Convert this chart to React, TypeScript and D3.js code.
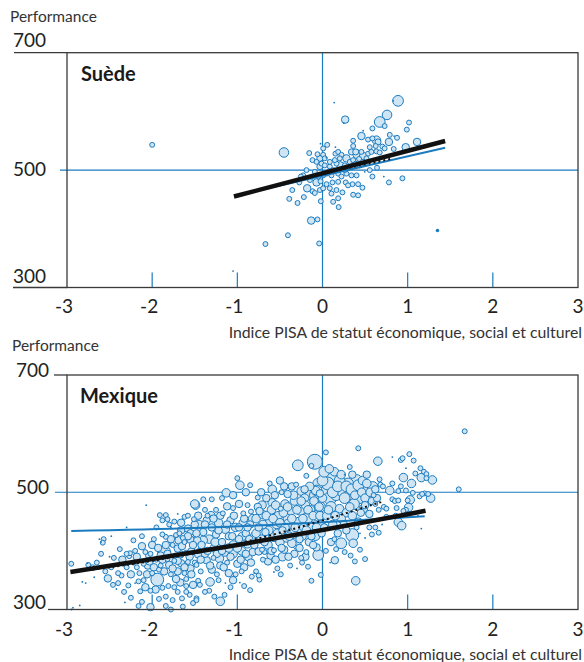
import React from "react";
import * as d3 from "d3";

const xTicks = [-3, -2, -1, 0, 1, 2, 3];
const innerTicks = [-2, -1, 1, 2];
const yTicks = [300, 500, 700];
const xTitle = "Indice PISA de statut économique, social et culturel";
const yTitle = "Performance";

type P = [number, number, number]; // [ESCS, score, school size]

const swedenPoints: P[] = [
  [0.137,615,5],[0.887,618,190],[0.83,618,5],[0.758,594,150],[0.672,582,190],[0.73,575,40],[0.266,586,92],[0.25,580,5],
  [1.016,581,40],[0.99,569,40],[0.586,571,40],[0.477,567,5],[0.79,560,40],[0.84,558,5],[0.875,555,40],[0.457,558,92],
  [0.535,552,40],[0.633,551,120],[0.652,548,60],[0.586,554,40],[0.78,548,92],[1.11,548,92],[0.055,543,40],[0.008,537,40],
  [-0.023,545,5],[0.152,539,5],[0.36,550,40],[0.36,541,40],[0.555,539,40],[0.625,541,40],[0.703,540,40],[0.73,537,40],
  [0.977,539,92],[-0.453,530,150],[-0.156,529,40],[-0.059,527,40],[-0.031,520,60],[0.008,526,40],[0.047,521,5],[0.152,528,40],
  [0.184,531,40],[0.223,526,40],[0.281,520,92],[0.34,531,60],[0.39,531,60],[0.406,527,120],[0.457,531,40],[0.477,524,92],
  [0.535,528,40],[0.574,531,40],[0.633,532,40],[0.672,530,40],[0.836,536,40],[-0.117,517,40],[-0.07,514,40],[-0.012,511,40],
  [-0.031,506,60],[0.086,506,40],[0.125,500,40],[0.164,511,40],[0.21,508,92],[0.262,508,40],[0.32,514,40],[0.36,517,40],
  [0.39,511,40],[0.43,519,40],[-0.188,500,40],[-0.227,491,40],[-0.254,489,40],[-0.273,479,40],[-0.09,497,40],[-0.05,489,40],
  [0.008,491,40],[0.047,494,40],[0.078,498,40],[0.105,491,40],[0.184,494,40],[0.223,489,40],[0.281,494,40],[0.34,491,40],
  [0.4,491,40],[0.496,497,5],[0.555,500,40],[0.586,489,40],[0.64,504,40],[0.72,489,5],[0.78,479,40],[0.938,486,40],
  [-0.148,483,40],[-0.07,479,92],[-0.023,481,40],[0.047,476,40],[0.117,479,40],[0.184,480,40],[0.273,479,40],[0.352,476,40],
  [0.418,476,40],[-0.355,466,40],[-0.219,454,40],[-0.18,469,92],[-0.117,464,40],[-0.09,461,40],[-0.031,466,40],[0.008,469,40],
  [0.086,469,40],[0.105,460,40],[0.164,466,40],[0.234,462,40],[0.3,474,40],[0.36,458,40],[0.418,457,40],[0.469,470,40],
  [-0.39,451,40],[-0.293,444,40],[-0.02,447,40],[0.125,446,40],[0.184,452,40],[0.19,437,40],[-0.133,414,92],[-0.059,416,40],
  [-0.406,389,40],[-0.039,375,40],[1.35,397,20],[-2.0,543,40],[-1.05,328,5],[-0.67,374,40],
  [0.086,514,40],[0.027,508,40],[0.262,500,40],[0.145,517,40],[0.32,505,40],[0.438,508,40],[0.496,511,40],[0.516,520,40],
  [0.203,520,40],[0.027,520,40],
];

const swedenBlack: [number, number][] = [[-1.04,455],[1.44,549.5]];
const swedenBlue: [number, number][] = [[-1.0,457],[1.44,538]];
const swedenDotted: [number, number][] = [[-0.6,471],[0,493],[0.5,510],[0.8,519]];

const mexicoPoints: P[] = [
  // far left
  [-2.93,303,5],[-2.85,307,5],[-2.78,345,5],[-2.82,347,5],[-2.76,379,5],[-2.62,420,5],[-2.60,415,5],[-2.68,355,5],
  [-2.95,378,40],[-2.75,376,40],[-2.57,420,40],[-2.58,414,40],[-2.52,353,92],[-2.50,390,5],[-2.45,388,40],[-2.42,335,5],
  [-2.46,342,40],[-2.38,403,40],[-2.36,358,40],[-2.30,372,40],[-2.27,391,40],[-2.22,418,40],[-2.28,341,40],[-2.20,345,5],
  [-2.32,312,5],[-2.48,425,5],[-2.70,372,40],[-2.30,440,5],[-2.18,372,40],[-2.12,408,92],[-2.16,348,40],[-2.10,378,40],
  [-2.05,392,40],[-2.02,304,92],[-2.06,360,92],[-2.07,478,5],[-2.08,398,40],[-2.12,313,40],[-2.95,300,5],[-2.22,380,40],
  [-2.14,331,40],[-2.26,396,40],
  [-2.55,365,40],[-2.48,372,40],[-2.40,362,40],[-2.35,385,92],[-2.30,395,40],[-2.25,360,92],[-2.20,400,40],[-2.18,390,92],
  [-2.15,362,40],[-2.10,350,40],[-2.05,375,92],[-2.02,395,40],[-2.00,410,92],[-2.12,425,40],[-2.40,345,40],[-2.33,330,40],
  [-2.60,395,40],[-2.65,380,40],[-2.25,320,40],[-2.08,338,92],[-2.16,306,40],
  // -2 .. -1.5
  [-1.91,461,40],[-1.84,461,40],[-1.88,452,40],[-1.82,454,40],[-1.70,463,5],[-1.62,458,40],[-1.51,454,40],[-1.49,478,120],
  [-1.78,440,5],[-1.66,435,92],[-1.58,438,92],[-1.84,424,40],[-1.72,427,40],[-1.64,422,40],[-1.55,430,92],[-1.52,422,92],
  [-1.86,398,270],[-1.84,410,92],[-1.76,410,40],[-1.69,418,92],[-1.62,415,40],[-1.55,419,92],[-1.47,418,92],[-1.90,392,92],
  [-1.82,386,40],[-1.73,392,40],[-1.67,394,92],[-1.60,397,40],[-1.54,399,92],[-1.46,394,92],[-2.03,382,92],[-1.95,385,40],
  [-1.88,385,92],[-1.80,376,92],[-1.74,383,40],[-1.66,379,92],[-1.58,381,40],[-1.50,380,40],[-1.94,351,270],[-2.02,332,40],
  [-1.96,334,92],[-1.88,337,40],[-1.81,340,40],[-1.74,338,40],[-1.67,346,92],[-1.60,340,40],[-1.52,342,92],[-1.46,349,40],
  [-1.84,322,40],[-1.76,316,40],[-1.65,319,40],[-1.56,325,40],[-1.48,319,40],[-1.64,305,40],[-1.52,311,40],[-1.84,306,40],
  [-1.78,360,40],[-1.70,365,92],[-1.62,362,40],[-1.55,370,92],[-1.92,368,40],[-2.00,362,40],[-1.70,404,92],[-1.98,420,40],
  [-1.98,372,92],[-1.93,405,92],[-1.90,375,40],[-1.86,365,92],[-1.82,395,92],[-1.78,420,92],[-1.76,370,92],[-1.72,352,92],
  [-1.70,383,92],[-1.68,430,40],[-1.65,408,92],[-1.62,372,92],[-1.60,352,40],[-1.58,425,92],[-1.56,390,92],[-1.54,360,92],
  [-1.52,410,92],[-1.50,445,92],[-1.95,440,40],[-1.88,428,40],[-1.80,445,40],[-1.74,450,40],[-1.66,448,92],[-1.58,460,40],
  [-1.92,318,40],[-1.70,330,40],[-1.60,330,40],[-1.78,300,40],
  // -1.5 .. -0.8
  [-1.50,480,120],[-1.38,470,40],[-1.31,460,120],[-1.17,464,40],[-1.05,473,40],[-0.93,464,40],[-1.00,524,40],[-0.97,512,120],
  [-1.13,499,120],[-0.84,467,40],[-0.76,491,40],[-1.48,376,40],[-1.36,384,92],[-1.21,387,120],[-1.05,395,120],[-0.87,389,92],
  [-1.32,347,120],[-1.44,342,40],[-1.20,314,120],[-1.48,316,40],[-1.27,322,40],[-0.97,346,5],[-1.14,345,5],[-0.83,356,40],
  [-0.80,362,5],[-0.85,333,40],[-0.74,351,40],
  [-1.45,445,120],[-1.40,432,92],[-1.36,452,92],[-1.33,420,120],[-1.30,440,92],[-1.27,405,120],[-1.25,428,92],[-1.22,448,120],
  [-1.18,415,92],[-1.15,398,120],[-1.14,437,120],[-1.10,425,92],[-1.08,452,92],[-1.05,410,120],[-1.02,440,120],[-0.98,420,92],
  [-0.95,400,120],[-0.93,448,120],[-0.90,430,92],[-0.88,412,120],[-0.85,445,92],[-0.82,398,92],[-0.80,425,120],[-1.42,410,92],
  [-1.38,395,92],[-1.28,388,40],[-1.20,375,92],[-1.12,380,40],[-1.00,378,92],[-0.92,372,92],[-1.43,365,40],[-1.30,368,92],
  [-1.24,360,40],[-1.10,362,92],[-1.35,460,40],[-1.25,470,40],[-1.12,476,92],[-0.98,480,92],[-0.88,478,40],[-1.40,488,40],
  [-1.45,400,40],[-1.02,360,40],[-0.95,365,40],[-1.33,332,40],[-1.08,338,40],
  [-1.48,430,92],[-1.46,460,92],[-1.43,385,92],[-1.40,418,120],[-1.38,445,92],[-1.35,400,92],[-1.32,375,92],[-1.28,455,92],
  [-1.26,415,120],[-1.24,395,92],[-1.22,435,92],[-1.20,460,92],[-1.18,400,92],[-1.16,372,92],[-1.12,445,92],[-1.10,405,120],
  [-1.08,390,92],[-1.06,425,92],[-1.04,460,92],[-1.00,405,120],[-0.98,440,92],[-0.96,385,92],[-0.94,425,120],[-0.92,455,92],
  [-0.90,395,92],[-0.88,440,92],[-0.86,420,92],[-0.84,380,92],[-0.82,455,120],[-0.80,410,92],[-1.30,488,40],[-1.18,490,40],
  [-1.05,495,92],[-0.90,500,92],[-0.85,512,40],[-1.22,350,40],[-1.05,350,92],[-0.92,340,40],[-1.38,330,40],[-1.15,325,40],
  // -0.8 .. 0
  [-0.71,478,120],[-0.59,482,120],[-0.59,505,120],[-0.49,472,40],[-0.40,456,190],[-0.41,497,92],[-0.36,510,92],[-0.31,513,40],
  [-0.29,546,190],[-0.25,502,120],[-0.21,490,120],[-0.19,528,40],[-0.14,496,190],[-0.13,545,40],[-0.09,552,368],[-0.08,503,120],
  [-0.03,498,92],[-0.05,393,190],[-0.75,399,92],[-0.68,398,40],[-0.57,401,40],[-0.47,390,120],[-0.33,395,92],[-0.24,380,40],
  [-0.17,373,40],[-0.07,406,92],[-0.57,364,5],[-0.53,370,40],[-0.49,360,40],[-0.75,358,40],[-0.78,365,40],[-0.64,382,92],
  [-0.38,375,40],[-0.30,370,5],[-0.25,388,40],
  [-0.78,455,120],[-0.75,440,92],[-0.72,420,120],[-0.70,462,120],[-0.67,432,92],[-0.64,410,120],[-0.62,450,120],[-0.60,470,120],
  [-0.57,425,190],[-0.54,445,120],[-0.52,460,120],[-0.50,415,120],[-0.47,435,92],[-0.44,480,120],[-0.42,422,120],[-0.40,445,190],
  [-0.37,468,120],[-0.35,430,190],[-0.33,485,120],[-0.30,410,120],[-0.28,450,120],[-0.26,470,190],[-0.24,425,120],[-0.22,440,120],
  [-0.20,478,120],[-0.18,455,190],[-0.16,415,92],[-0.14,470,120],[-0.12,440,190],[-0.10,485,120],[-0.08,425,120],[-0.06,460,190],
  [-0.04,475,120],[-0.02,445,120],[0.00,490,120],[-0.66,490,92],[-0.56,495,92],[-0.48,500,40],[-0.76,475,92],[-0.71,402,40],
  [-0.61,392,92],[-0.45,402,92],[-0.36,413,120],[-0.27,405,92],[-0.19,398,40],[-0.11,410,92],
  [-0.78,430,120],[-0.74,468,92],[-0.70,445,120],[-0.68,415,92],[-0.66,460,120],[-0.63,435,120],[-0.60,400,92],[-0.58,455,120],
  [-0.55,478,120],[-0.53,430,120],[-0.50,448,120],[-0.48,405,92],[-0.46,465,120],[-0.44,440,120],[-0.41,475,120],[-0.39,425,120],
  [-0.36,455,120],[-0.34,495,120],[-0.32,440,120],[-0.30,470,120],[-0.27,420,92],[-0.25,485,120],[-0.23,455,120],[-0.21,505,92],
  [-0.19,435,120],[-0.17,470,120],[-0.15,510,120],[-0.13,425,92],[-0.11,460,120],[-0.09,495,190],[-0.07,440,120],[-0.05,515,190],
  [-0.03,460,120],[-0.01,430,92],[-0.72,500,92],[-0.62,515,40],[-0.50,520,92],[-0.45,510,92],[-0.70,385,40],[-0.55,385,92],
  [-0.40,390,92],[-0.20,390,92],
  // 0 .. 0.7
  [0.04,568,40],[0.42,575,40],[0.65,553,120],[0.32,543,40],[0.106,526,270],[0.16,509,368],[0.26,530,5],[0.40,521,190],
  [0.54,509,190],[0.59,509,190],[0.68,513,40],[0.71,510,40],
  [-0.07,503,190],[0.03,506,270],[0.09,490,270],[0.16,495,190],[0.24,500,190],[0.32,496,190],[0.44,490,190],[0.37,480,190],
  [0.48,472,120],[-0.03,475,190],[0.20,472,120],[0.28,465,120],[0.05,460,120],[0.12,445,120],[0.22,455,120],[0.35,460,120],
  [0.42,450,92],[0.55,463,92],[0.58,485,92],[0.62,480,40],[0.60,495,40],[0.10,475,190],[0.30,515,190],[0.47,520,120],
  [0.20,520,190],[0.00,520,190],[0.14,535,120],[0.35,530,92],[0.52,530,92],
  [0.02,535,190],[0.06,515,270],[0.08,540,120],[0.12,500,190],[0.18,510,190],[0.22,530,120],[0.26,490,190],[0.28,510,190],
  [0.34,505,190],[0.38,495,120],[0.42,512,190],[0.46,500,120],[0.50,490,120],[0.52,515,120],[0.56,500,120],[0.62,505,92],
  [0.64,490,92],[0.07,470,120],[0.15,460,120],[0.25,445,92],[0.32,475,120],[0.45,465,92],[0.50,478,92],[0.66,470,40],
  [0.02,440,92],[0.18,430,92],[0.28,435,92],[0.40,440,40],[0.10,415,92],[0.04,400,40],
  [0.35,427,270],[0.22,413,190],[0.36,413,120],[0.14,420,40],[0.16,403,40],[0.26,398,40],[0.33,392,40],[0.44,402,40],
  [0.50,386,40],[0.145,384,92],[0.39,349,120],[0.38,382,40],[-0.13,349,40],[-0.02,359,40],[0.09,380,5],[0.44,430,5],
  [0.50,422,5],[0.58,428,40],[0.55,440,40],[0.66,431,40],
  // 0.7 .. 1.7
  [1.02,565,40],[0.92,555,40],[0.94,558,40],[1.07,554,40],[0.82,560,5],[0.98,541,5],[1.15,541,40],[1.09,532,40],
  [1.19,535,40],[1.22,531,40],[1.16,525,120],[1.22,524,40],[1.29,521,120],[0.95,525,120],[1.045,515,120],[0.82,515,40],
  [0.92,510,40],[0.67,522,40],[0.79,503,120],[0.89,502,40],[0.98,503,40],[1.06,499,40],[1.20,498,40],[1.24,497,40],
  [1.27,490,120],[1.14,493,40],[1.17,497,40],[0.82,488,40],[0.85,485,40],[0.89,486,40],[1.00,486,40],[1.03,487,120],
  [0.72,475,40],[0.75,472,40],[0.87,473,40],[0.98,470,40],[1.01,474,120],[0.95,468,40],[0.86,460,40],[0.89,449,120],
  [0.93,443,120],[1.16,438,5],[0.98,462,40],[1.12,460,5],[0.62,440,40],[0.75,458,40],[0.70,445,5],[1.67,604,40],
  [1.60,505,40],
];

const mexicoBlack: [number, number][] = [[-2.96,364],[-2,386],[-1,410],[0,435.6],[1,462.6],[1.21,468.5]];
const mexicoBlue: [number, number][] = [[-2.95,434],[-1.5,439],[0,449],[1.2,459]];
const mexicoDotted: [number, number][] = [[-2.7,368],[-2,383],[-1,412],[0,452],[0.7,484]];

const BLUE = "#1b7bbf";
const FILL = "#cfe5f4";
const FRAME = "#3a3a3a";
const FONT = "Lato, 'Open Sans', sans-serif";

const xScale = d3.scaleLinear().domain([-3, 3]).range([67, 578]);
const rScale = d3.scaleSqrt().domain([0, 400]).range([0, 7.8]);

type Layout = {
  top: number; bottom: number; title: string; titleX: number; titleY: number;
  perfY: number; perfX: number;
  y700: { x: number; base: number; lineFrom: number };
  y500: { x: number; base: number; lineFrom: number };
  y300: { x: number; base: number; lineFrom: number };
  tickLabelY: number; axisTitleY: number;
};

function Panel({ L, points, black, blue, dotted }: { L: Layout; points: P[]; black: [number, number][]; blue: [number, number][]; dotted: [number, number][] }) {
  const y = d3.scaleLinear().domain([300, 700]).range([L.bottom, L.top]);
  const lineGen = d3.line<[number, number]>().x(d => xScale(d[0])).y(d => y(d[1])).curve(d3.curveMonotoneX);
  const left = xScale(-3), right = xScale(3);
  const sorted = [...points].sort((a, b) => b[2] - a[2]);
  const lab = [L.y300, L.y500, L.y700];
  return (
    <g>
      <text x={L.perfX} y={L.perfY} fontSize={15.5} fill="#333" fontFamily={FONT}>{yTitle}</text>
      {yTicks.map((t, i) => (
        <text key={t} x={lab[i].x} y={lab[i].base} fontSize={19} fill="#222" fontFamily={FONT}>{t}</text>
      ))}
      <line x1={L.y700.lineFrom} x2={left} y1={y(700)} y2={y(700)} stroke={FRAME} strokeWidth={1.3} />
      <line x1={L.y300.lineFrom} x2={left} y1={y(300)} y2={y(300)} stroke={FRAME} strokeWidth={1.3} />
      <line x1={L.y500.lineFrom} x2={right} y1={y(500)} y2={y(500)} stroke={BLUE} strokeWidth={1.2} />
      <line x1={xScale(0)} x2={xScale(0)} y1={y(700)} y2={y(300)} stroke={BLUE} strokeWidth={1.2} />
      {innerTicks.map(t => (
        <line key={t} x1={xScale(t)} x2={xScale(t)} y1={y(300)} y2={y(300) - 15} stroke={BLUE} strokeWidth={1.2} />
      ))}
      {sorted.map((p, i) => {
        const r = rScale(p[2]);
        return p[2] < 25 ? (
          <circle key={i} cx={xScale(p[0])} cy={y(p[1])} r={Math.max(r, 0.9)} fill={BLUE} />
        ) : (
          <circle key={i} cx={xScale(p[0])} cy={y(p[1])} r={r} fill={FILL} stroke={BLUE} strokeWidth={1} />
        );
      })}
      <path d={lineGen(blue) || ""} fill="none" stroke={BLUE} strokeWidth={2} />
      <path d={lineGen(dotted) || ""} fill="none" stroke="#111" strokeWidth={2} strokeDasharray="2,3" />
      <path d={lineGen(black) || ""} fill="none" stroke="#111" strokeWidth={4.5} />
      <rect x={left} y={y(700)} width={right - left} height={y(300) - y(700)} fill="none" stroke={FRAME} strokeWidth={1.3} />
      <text x={L.titleX} y={L.titleY} fontSize={20} fontWeight={700} fill="#1a1a1a" fontFamily={FONT}>{L.title}</text>
      {xTicks.map(t => (
        <text key={t} x={xScale(t) - (t < 0 ? 3 : 0)} y={L.tickLabelY} fontSize={19} textAnchor="middle" fill="#222" fontFamily={FONT}>{t}</text>
      ))}
      <text x={582} y={L.axisTitleY} fontSize={15.8} textAnchor="end" fill="#333" fontFamily={FONT}>{xTitle}</text>
    </g>
  );
}

const topLayout: Layout = {
  top: 52.7, bottom: 287.5, title: "Suède", titleX: 81, titleY: 81,
  perfX: 10, perfY: 22,
  y700: { x: 13, base: 47, lineFrom: 14 },
  y500: { x: 13, base: 176, lineFrom: 60 },
  y300: { x: 13, base: 283, lineFrom: 13 },
  tickLabelY: 313, axisTitleY: 338,
};

const bottomLayout: Layout = {
  top: 375, bottom: 609.5, title: "Mexique", titleX: 80, titleY: 403,
  perfX: 12, perfY: 351,
  y700: { x: 16, base: 377, lineFrom: 54 },
  y500: { x: 16, base: 494, lineFrom: 55 },
  y300: { x: 13, base: 609, lineFrom: 48 },
  tickLabelY: 636, axisTitleY: 660,
};

export default function App() {
  return (
    <svg width={584} height={662} style={{ position: "absolute", left: 0, top: 0, background: "#fff" }}>
      <rect width={584} height={662} fill="#fff" />
      <Panel L={topLayout} points={swedenPoints} black={swedenBlack} blue={swedenBlue} dotted={swedenDotted} />
      <Panel L={bottomLayout} points={mexicoPoints} black={mexicoBlack} blue={mexicoBlue} dotted={mexicoDotted} />
    </svg>
  );
}
